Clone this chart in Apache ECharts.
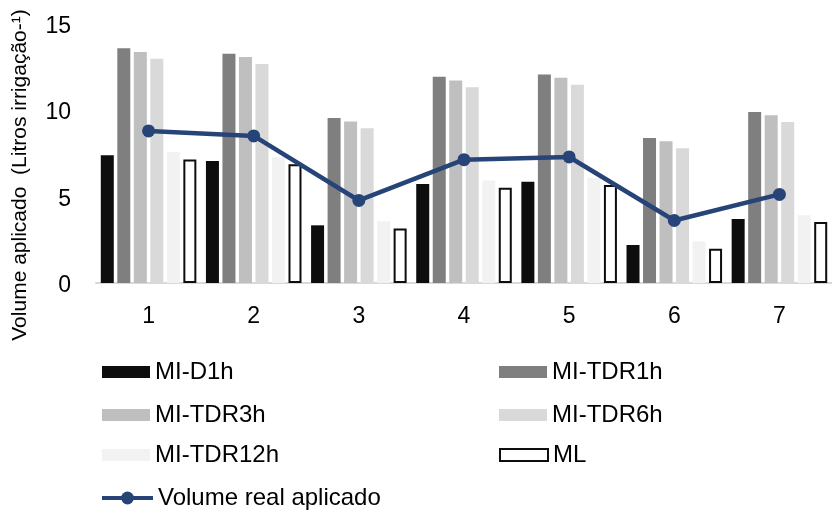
<!DOCTYPE html>
<html>
<head>
<meta charset="utf-8">
<script src="https://cdn.jsdelivr.net/npm/echarts@6/dist/echarts.min.js"></script>
<style>
  html, body { margin: 0; padding: 0; background: #ffffff; }
  #chart { width: 832px; height: 511px; }
</style>
</head>
<body>
<div id="chart"></div>
<script>
// Irrigation events (1..7) and applied volume per treatment, litres per irrigation
const categories = ['1', '2', '3', '4', '5', '6', '7'];
const miD1h    = [7.40, 7.06, 3.34, 5.74, 5.86, 2.20, 3.71];
const miTdr1h  = [13.59, 13.28, 9.56, 11.94, 12.08, 8.40, 9.91];
const miTdr3h  = [13.38, 13.09, 9.35, 11.73, 11.89, 8.21, 9.72];
const miTdr6h  = [12.99, 12.69, 8.96, 11.33, 11.48, 7.80, 9.33];
const miTdr12h = [7.59, 7.30, 3.58, 5.94, 6.08, 2.41, 3.92];
const ml       = [7.15, 6.88, 3.16, 5.52, 5.68, 1.99, 3.53];
const volumeReal = [8.81, 8.52, 4.78, 7.14, 7.30, 3.62, 5.13];
const yTicks = [0, 5, 10, 15];

const FONT = 'Liberation Sans, Arial, sans-serif';
const TEXT = '#000000';

const chart = echarts.init(document.getElementById('chart'), null, { renderer: 'canvas' });

function bar(name, data, color, extra) {
  return Object.assign({
    name: name,
    type: 'bar',
    data: data,
    barWidth: 13,
    barGap: '27%',
    itemStyle: { color: color },
    emphasis: { disabled: true },
    animation: false
  }, extra || {});
}

// one legend block per entry, laid out in two columns
function legendAt(name, left, top, opts) {
  return Object.assign({
    data: [name],
    left: left,
    top: top,
    padding: 0,
    orient: 'horizontal',
    icon: 'rect',
    itemWidth: 48,
    itemHeight: 12,
    selectedMode: false,
    textStyle: { fontFamily: FONT, fontSize: 24, color: TEXT, lineHeight: 24 }
  }, opts || {});
}

const rowTop = [360, 403, 443, 486];

chart.setOption({
  animation: false,
  backgroundColor: '#ffffff',
  grid: { left: 96, top: 24, width: 742.5, height: 259, containLabel: false },
  xAxis: {
    type: 'category',
    data: categories,
    axisLine: { show: true, lineStyle: { color: '#d9d9d9', width: 2 } },
    axisTick: { show: false },
    axisLabel: { fontFamily: FONT, fontSize: 23, color: TEXT, margin: 22 },
    splitLine: { show: false }
  },
  yAxis: {
    type: 'value',
    min: yTicks[0],
    max: yTicks[yTicks.length - 1],
    interval: 5,
    axisLine: { show: false },
    axisTick: { show: false },
    splitLine: { show: false },
    axisLabel: {
      fontFamily: FONT, fontSize: 23, color: TEXT, margin: 25,
      verticalAlign: 'top', lineHeight: 23, padding: [-9, 0, 0, 0]
    }
  },
  graphic: [{
    type: 'text',
    x: 20,
    y: 175,
    rotation: Math.PI / 2,
    style: {
      text: 'Volume aplicado  (Litros irrigação-¹)',
      fontFamily: FONT,
      fontSize: 21,
      fill: TEXT,
      align: 'center',
      verticalAlign: 'middle'
    }
  }],
  legend: [
    legendAt('MI-D1h', 102, rowTop[0]),
    legendAt('MI-TDR1h', 499, rowTop[0]),
    legendAt('MI-TDR3h', 102, rowTop[1]),
    legendAt('MI-TDR6h', 499, rowTop[1]),
    legendAt('MI-TDR12h', 102, rowTop[2]),
    legendAt('ML', 499, rowTop[2]),
    legendAt('Volume real aplicado', 100, rowTop[3], {
      icon: null, itemWidth: 51, itemHeight: 16,
      lineStyle: { width: 4 }
    })
  ],
  series: [
    bar('MI-D1h', miD1h, '#0d0d0d'),
    bar('MI-TDR1h', miTdr1h, '#7f7f7f'),
    bar('MI-TDR3h', miTdr3h, '#bfbfbf'),
    bar('MI-TDR6h', miTdr6h, '#d9d9d9'),
    bar('MI-TDR12h', miTdr12h, '#f2f2f2'),
    bar('ML', ml, '#ffffff', { itemStyle: { color: '#ffffff', borderColor: '#0d0d0d', borderWidth: 2 } }),
    {
      name: 'Volume real aplicado',
      type: 'line',
      data: volumeReal,
      z: 5,
      symbol: 'circle',
      symbolSize: 13,
      lineStyle: { color: '#264478', width: 4.5 },
      itemStyle: { color: '#264478' },
      emphasis: { disabled: true },
      animation: false
    }
  ]
});
</script>
</body>
</html>
